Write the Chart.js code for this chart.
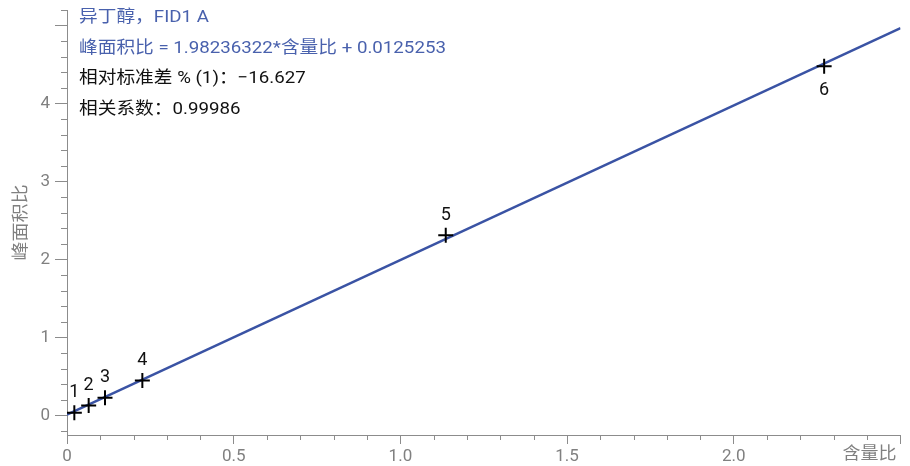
<!DOCTYPE html>
<html>
<head>
<meta charset="utf-8">
<title>异丁醇 校准曲线</title>
<script src="https://cdn.jsdelivr.net/npm/chart.js@4.4.0/dist/chart.umd.min.js"></script>
<style>
  html, body { margin: 0; padding: 0; background: #fff; }
</style>
</head>
<body>
<canvas id="calChart" width="910" height="466"></canvas>
<script>
// calibration levels (amount ratio vs peak area ratio)
const levels = ['1', '2', '3', '4', '5', '6'];
const amountRatio = [0.022, 0.065, 0.114, 0.226, 1.136, 2.271];
const areaRatio = [0.035, 0.128, 0.227, 0.449, 2.31, 4.48];

// fit result
const slope = 1.98236322;
const intercept = 0.0125253;

const xMajor = [0, 0.5, 1.0, 1.5, 2.0, 2.5];
const xTickLabels = ['0', '0.5', '1.0', '1.5', '2.0', ''];
const yMajor = [0, 1, 2, 3, 4, 5];
const yTickLabels = ['0', '1', '2', '3', '4', ''];

const infoLines = [
    '异丁醇，FID1 A',
    '峰面积比 = 1.98236322*含量比 + 0.0125253',
    '相对标准差 % (1)：−16.627',
    '相关系数：0.99986'
];

const FONT = 'Roboto, "Noto Sans CJK SC", sans-serif';
const AXIS = '#8c8c8c';
const TICK_TEXT = '#808080';
const BLUE = '#3a53a4';
const INFO_BLUE = '#4961ad';

// text drawn a little wider than the font's own width
function wideText(ctx, text, x, y, sx) {
    ctx.save();
    ctx.translate(x, y);
    ctx.scale(sx, 1);
    ctx.fillText(text, 0, 0);
    ctx.restore();
}

// short minor ticks, text block, point numbers and axis titles
const extras = {
    id: 'extras',
    afterDraw(chart) {
        const ctx = chart.ctx;
        const xs = chart.scales.x;
        const ys = chart.scales.y;
        const area = chart.chartArea;
        ctx.save();

        ctx.strokeStyle = AXIS;
        ctx.lineWidth = 1;
        ctx.beginPath();
        for (let i = 1; i <= 24; i++) {
            if (i % 5 === 0) continue;
            const px = Math.round(xs.getPixelForValue(i / 10)) + 0.5;
            ctx.moveTo(px, area.bottom);
            ctx.lineTo(px, area.bottom + 5);
        }
        for (let i = -1; i <= 26; i++) {
            if (i % 5 === 0) continue;
            const py = Math.round(ys.getPixelForValue(i / 5)) + 0.5;
            ctx.moveTo(area.left, py);
            ctx.lineTo(area.left - 6, py);
        }
        ctx.stroke();

        // point numbers
        ctx.fillStyle = '#111';
        ctx.font = '18px ' + FONT;
        ctx.textAlign = 'center';
        ctx.textBaseline = 'middle';
        const meta = chart.getDatasetMeta(0);
        meta.data.forEach((pt, i) => {
            const below = i === levels.length - 1;
            ctx.fillText(levels[i], pt.x, below ? pt.y + 24 : pt.y - 20);
        });

        // info block
        ctx.font = '17px ' + FONT;
        ctx.textAlign = 'left';
        infoLines.forEach((t, i) => {
            ctx.fillStyle = i < 2 ? INFO_BLUE : '#111';
            wideText(ctx, t, area.left + 12, 18 + i * 30.5, 1.1);
        });

        // axis titles
        ctx.fillStyle = TICK_TEXT;
        ctx.textAlign = 'right';
        wideText(ctx, '含量比', area.right - 4, 455, 1.06);
        ctx.translate(22, (area.top + area.bottom) / 2);
        ctx.rotate(-Math.PI / 2);
        ctx.textAlign = 'center';
        wideText(ctx, '峰面积比', 0, 0, 1.12);
        ctx.restore();
    }
};

new Chart(document.getElementById('calChart'), {
    type: 'scatter',
    data: {
        datasets: [{
            label: '标样',
            data: amountRatio.map((x, i) => ({ x: x, y: areaRatio[i] })),
            pointStyle: 'cross',
            pointRadius: 7.5,
            pointBorderColor: '#000',
            pointBorderWidth: 2,
            pointHoverRadius: 7.5
        }, {
            type: 'line',
            label: '拟合',
            data: [
                { x: 0, y: intercept },
                { x: 2.5, y: slope * 2.5 + intercept }
            ],
            borderColor: BLUE,
            borderWidth: 2.5,
            pointRadius: 0,
            fill: false
        }]
    },
    options: {
        responsive: false,
        animation: false,
        layout: { padding: { top: 10, right: 9, left: 0, bottom: 0 } },
        plugins: {
            legend: { display: false },
            tooltip: { enabled: false }
        },
        scales: {
            x: {
                type: 'linear',
                min: 0,
                max: 2.5,
                afterBuildTicks: s => { s.ticks = xMajor.map(v => ({ value: v })); },
                afterFit: s => {
                    s.height = 31;
                    s.paddingLeft = 0;
                    s.paddingRight = 0;
                },
                border: { color: AXIS, width: 1 },
                grid: {
                    drawOnChartArea: false,
                    tickLength: 9,
                    tickColor: AXIS
                },
                ticks: {
                    autoSkip: false,
                    maxRotation: 0,
                    padding: 3,
                    color: TICK_TEXT,
                    font: { family: FONT, size: 17 },
                    callback: (v, i) => xTickLabels[i]
                }
            },
            y: {
                type: 'linear',
                min: -0.25,
                max: 5.2,
                afterBuildTicks: s => { s.ticks = yMajor.map(v => ({ value: v })); },
                afterFit: s => {
                    s.width = 67;
                    s.paddingTop = 0;
                    s.paddingBottom = 0;
                },
                border: { color: AXIS, width: 1 },
                grid: {
                    drawOnChartArea: false,
                    tickLength: 12,
                    tickColor: AXIS
                },
                ticks: {
                    autoSkip: false,
                    padding: 5,
                    color: TICK_TEXT,
                    font: { family: FONT, size: 17 },
                    callback: (v, i) => yTickLabels[i]
                }
            }
        }
    },
    plugins: [extras]
});
</script>
</body>
</html>
